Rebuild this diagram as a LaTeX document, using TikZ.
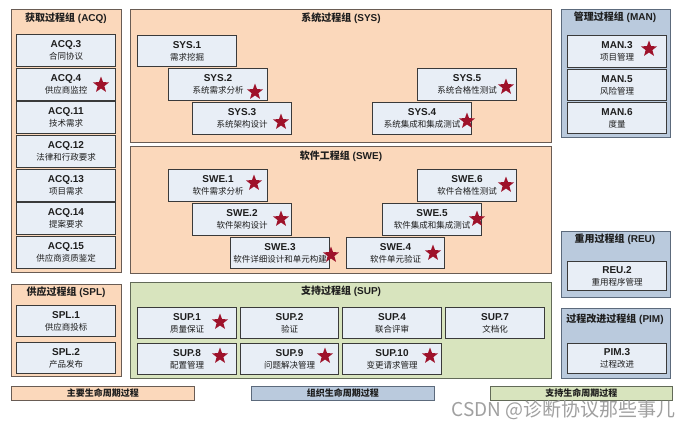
\documentclass[tikz,border=0pt]{standalone}
\usepackage{fontspec}
\setmainfont{Liberation Sans}
\newfontfamily\cjk{Noto Sans CJK SC}
\usetikzlibrary{shapes.geometric}
\definecolor{orangefill}{RGB}{251,216,187}
\definecolor{orangeborder}{RGB}{105,92,84}
\definecolor{bluefill}{RGB}{186,202,221}
\definecolor{blueborder}{RGB}{92,106,124}
\definecolor{greenfill}{RGB}{216,228,190}
\definecolor{greenborder}{RGB}{98,106,88}
\definecolor{boxfill}{RGB}{232,238,246}
\definecolor{boxborder}{RGB}{58,58,58}
\definecolor{textcol}{RGB}{30,30,30}
\definecolor{starred}{RGB}{158,18,42}
\definecolor{wmark}{RGB}{160,160,160}
\tikzset{
  grp/.style={line width=1.1pt, inner sep=0pt, anchor=north west},
  ogrp/.style={grp, draw=orangeborder, fill=orangefill},
  bgrp/.style={grp, draw=blueborder, fill=bluefill},
  ggrp/.style={grp, draw=greenborder, fill=greenfill},
  gtitle/.style={inner sep=0pt, text=textcol, font=\fontsize{10}{12}\selectfont},
  pbox/.style={draw=boxborder, line width=1pt, fill=boxfill, inner sep=0pt,
    anchor=north west, align=center, text=textcol, font=\fontsize{9}{12}\selectfont},
  redstar/.style={star, star points=5, star point ratio=2.4, fill=starred,
    draw=none, minimum size=17pt, inner sep=0pt},
  legbox/.style={line width=0.9pt, anchor=north west, inner sep=0pt,
    minimum height=14pt, text=textcol, font=\fontsize{9}{10}\selectfont}
}
\newcommand\grptitle[2]{{\cjk\bfseries #1} \textbf{(#2)}}
\newcommand\procbox[7]{%
  \node[pbox, minimum width=#4pt, minimum height=#5pt] (#1) at (#2,#3)
    {{\bfseries\fontsize{10}{12}\selectfont #6}\\{\cjk\fontsize{8.5}{10}\selectfont #7}};}
\begin{document}
\begin{tikzpicture}[x=1pt,y=-1pt]
\useasboundingbox (0,0) rectangle (684,428);
\fill[white] (0,0) rectangle (684,428);

% ---------- groups ----------
\node[ogrp, minimum width=110pt, minimum height=263pt] (acq) at (11,9) {};
\node[ogrp, minimum width=110pt, minimum height=92pt] (spl) at (11,284) {};
\node[ogrp, minimum width=421pt, minimum height=133pt] (sys) at (130,9) {};
\node[ogrp, minimum width=421pt, minimum height=127pt] (swe) at (130,146) {};
\node[ggrp, minimum width=421pt, minimum height=96pt] (sup) at (130,282) {};
\node[bgrp, minimum width=109pt, minimum height=128pt] (man) at (561,9) {};
\node[bgrp, minimum width=109pt, minimum height=66pt] (reu) at (561,231) {};
\node[bgrp, minimum width=109pt, minimum height=70pt] (pim) at (561,308) {};

\node[gtitle] (t-acq) at (66,18) {\grptitle{获取过程组}{ACQ}};
\node[gtitle] (t-spl) at (66,292) {\grptitle{供应过程组}{SPL}};
\node[gtitle] (t-sys) at (341,18) {\grptitle{系统过程组}{SYS}};
\node[gtitle] (t-swe) at (341,156) {\grptitle{软件工程组}{SWE}};
\node[gtitle] (t-sup) at (341,291) {\grptitle{支持过程组}{SUP}};
\node[gtitle] (t-man) at (615,17) {\grptitle{管理过程组}{MAN}};
\node[gtitle] (t-reu) at (615,239) {\grptitle{重用过程组}{REU}};
\node[gtitle] (t-pim) at (615,319) {\grptitle{过程改进过程组}{PIM}};

% ---------- ACQ ----------
\procbox{acq3}{16}{34}{99}{32}{ACQ.3}{合同协议}
\procbox{acq4}{16}{67.7}{99}{32}{ACQ.4}{供应商监控}
\procbox{acq11}{16}{101.3}{99}{32}{ACQ.11}{技术需求}
\procbox{acq12}{16}{135}{99}{32}{ACQ.12}{法律和行政要求}
\procbox{acq13}{16}{168.7}{99}{32}{ACQ.13}{项目需求}
\procbox{acq14}{16}{202.3}{99}{32}{ACQ.14}{提案要求}
\procbox{acq15}{16}{236}{99}{32}{ACQ.15}{供应商资质鉴定}

% ---------- SPL ----------
\procbox{spl1}{16}{305}{99}{31}{SPL.1}{供应商投标}
\procbox{spl2}{16}{342}{99}{31}{SPL.2}{产品发布}

% ---------- SYS ----------
\procbox{sys1}{137}{35}{99}{31}{SYS.1}{需求挖掘}
\procbox{sys2}{168}{68}{99}{32}{SYS.2}{系统需求分析}
\procbox{sys3}{192}{102}{99}{32}{SYS.3}{系统架构设计}
\procbox{sys4}{372}{102}{99}{32}{SYS.4}{系统集成和集成测试}
\procbox{sys5}{417}{68}{99}{32}{SYS.5}{系统合格性测试}

% ---------- SWE ----------
\procbox{swe1}{168}{169}{99}{32}{SWE.1}{软件需求分析}
\procbox{swe2}{192}{203}{99}{32}{SWE.2}{软件架构设计}
\procbox{swe3}{230}{237}{99}{31}{SWE.3}{软件详细设计和单元构建}
\procbox{swe4}{346}{237}{98}{31}{SWE.4}{软件单元验证}
\procbox{swe5}{382}{203}{99}{32}{SWE.5}{软件集成和集成测试}
\procbox{swe6}{417}{169}{99}{32}{SWE.6}{软件合格性测试}

% ---------- SUP ----------
\procbox{sup1}{137}{307}{99}{31}{SUP.1}{质量保证}
\procbox{sup2}{240}{307}{98}{31}{SUP.2}{验证}
\procbox{sup4}{342}{307}{99}{31}{SUP.4}{联合评审}
\procbox{sup7}{445}{307}{99}{31}{SUP.7}{文档化}
\procbox{sup8}{137}{343}{99}{31}{SUP.8}{配置管理}
\procbox{sup9}{240}{343}{98}{31}{SUP.9}{问题解决管理}
\procbox{sup10}{342}{343}{99}{31}{SUP.10}{变更请求管理}

% ---------- MAN / REU / PIM ----------
\procbox{man3}{567}{35}{99}{32}{MAN.3}{项目管理}
\procbox{man5}{567}{69}{99}{31}{MAN.5}{风险管理}
\procbox{man6}{567}{102}{99}{31}{MAN.6}{度量}
\procbox{reu2}{567}{261}{99}{29}{REU.2}{重用程序管理}
\procbox{pim3}{567}{343}{99}{30}{PIM.3}{过程改进}

% ---------- stars ----------
\node[redstar] (s-acq4) at (101,85) {};
\node[redstar] (s-sys2) at (255,92) {};
\node[redstar] (s-sys3) at (281,122) {};
\node[redstar] (s-sys4) at (467,121) {};
\node[redstar] (s-sys5) at (506,87) {};
\node[redstar] (s-swe1) at (254,183) {};
\node[redstar] (s-swe2) at (281,219) {};
\node[redstar] (s-swe3) at (331,255) {};
\node[redstar] (s-swe4) at (433,253) {};
\node[redstar] (s-swe5) at (477,219) {};
\node[redstar] (s-swe6) at (506,185) {};
\node[redstar] (s-sup1) at (220,322) {};
\node[redstar] (s-sup8) at (220,356) {};
\node[redstar] (s-sup9) at (325,356) {};
\node[redstar] (s-sup10) at (430,356) {};
\node[redstar] (s-man3) at (649,49) {};

% ---------- legend ----------
\node[legbox, draw=orangeborder, fill=orangefill, minimum width=183pt] (leg1) at (11,386) {\cjk\bfseries 主要生命周期过程};
\node[legbox, draw=blueborder, fill=bluefill, minimum width=183pt] (leg2) at (251,386) {\cjk\bfseries 组织生命周期过程};
\node[legbox, draw=greenborder, fill=greenfill, minimum width=182pt] (leg3) at (490,386) {\cjk\bfseries 支持生命周期过程};

% ---------- watermark ----------
\node[anchor=east, inner sep=0pt, text=wmark, font=\cjk\fontsize{19}{20}\selectfont] (wm) at (676,410) {CSDN @诊断协议那些事儿};
\end{tikzpicture}
\end{document}
